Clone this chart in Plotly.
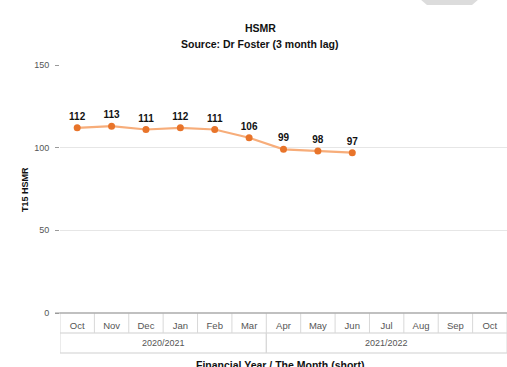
import plotly.graph_objects as go

# HSMR by month, financial years 2020/2021 and 2021/2022
months = ["Oct", "Nov", "Dec", "Jan", "Feb", "Mar", "Apr", "May", "Jun", "Jul", "Aug", "Sep", "Oct"]
fin_years = ["2020/2021", "2021/2022"]
year_spans = [(0, 5), (6, 12)]  # month index ranges covered by each financial year
hsmr = [112, 113, 111, 112, 111, 106, 99, 98, 97]
y_ticks = [0, 50, 100, 150]

W, H = 507, 367
ML, MR, MT, MB = 60, 0, 65, 54
PW, PH = W - ML - MR, H - MT - MB


def px_x(px):
    return (px - ML) / PW


def px_y(py):
    return (H - MB - py) / PH


FONT = "Liberation Sans, Arial, sans-serif"
GRID = "#e6e6e6"
TXT = "#555555"

idx = list(range(len(hsmr)))

fig = go.Figure()
fig.add_trace(go.Scatter(
    x=idx, y=hsmr,
    mode="lines+markers+text",
    line=dict(color="#f7ad7a", width=2.2),
    marker=dict(color="#e8742a", size=7),
    text=[str(v) for v in hsmr],
    textposition="top center",
    textfont=dict(family=FONT, size=10, color="#111111", weight="bold"),
    cliponaxis=False,
    hoverinfo="skip",
    showlegend=False,
))

shapes = []
row1, row2, row3 = 0, px_y(333), px_y(353)
# horizontal table rules under the axis
for yy in (row1, row2, row3):
    shapes.append(dict(type="line", xref="x", yref="paper", x0=-0.5, x1=len(months) - 0.5,
                       y0=yy, y1=yy, line=dict(color="#cfcfcf", width=1)))
# vertical cell borders for months
for i in range(len(months) + 1):
    shapes.append(dict(type="line", xref="x", yref="paper", x0=i - 0.5, x1=i - 0.5,
                       y0=row1, y1=row2, line=dict(color="#d8d8d8", width=1)))
# vertical borders for year groups
for a, b in year_spans:
    for xx in (a - 0.5, b + 0.5):
        shapes.append(dict(type="line", xref="x", yref="paper", x0=xx, x1=xx,
                           y0=row2, y1=row3, line=dict(color="#d8d8d8", width=1)))
# baseline axis line
shapes.append(dict(type="line", xref="paper", yref="paper", x0=px_x(55), x1=1,
                   y0=0, y1=0, line=dict(color="#9a9a9a", width=1.2)))
# grey tab at the top edge
shapes.append(dict(type="path", xref="paper", yref="paper",
                   path=f"M {px_x(420)},{px_y(-1)} L {px_x(479)},{px_y(-1)} "
                        f"L {px_x(472)},{px_y(5)} L {px_x(427)},{px_y(5)} Z",
                   fillcolor="#dcdcdc", line=dict(width=0)))

annotations = []
for (a, b), label in zip(year_spans, fin_years):
    annotations.append(dict(x=(a + b) / 2, xref="x", y=px_y(343), yref="paper",
                            text=label, showarrow=False, yanchor="middle",
                            font=dict(family=FONT, size=9, color=TXT)))
annotations += [
    dict(x=px_x(260), xref="paper", y=px_y(20), yref="paper", text="<b>HSMR</b>",
         showarrow=False, font=dict(family=FONT, size=10.5, color="#111111")),
    dict(x=px_x(260), xref="paper", y=px_y(36), yref="paper",
         text="<b>Source: Dr Foster (3 month lag)</b>",
         showarrow=False, font=dict(family=FONT, size=10.5, color="#111111")),
    dict(x=px_x(18), xref="paper", y=px_y(190), yref="paper", text="<b>T15 HSMR</b>",
         textangle=-90, showarrow=False, font=dict(family=FONT, size=9, color="#111111")),
    dict(x=px_x(280), xref="paper", y=px_y(357), yref="paper", yanchor="top",
         text="<b>Financial Year / The Month (short)</b>",
         showarrow=False, font=dict(family=FONT, size=10.5, color="#111111")),
]

fig.update_layout(
    width=W, height=H,
    margin=dict(l=ML, r=MR, t=MT, b=MB),
    paper_bgcolor="white", plot_bgcolor="white",
    shapes=shapes, annotations=annotations,
    xaxis=dict(
        range=[-0.5, len(months) - 0.5],
        tickvals=list(range(len(months))), ticktext=months,
        showgrid=False, zeroline=False, showline=False, ticks="",
        ticklabelstandoff=5,
        tickfont=dict(family=FONT, size=9.5, color=TXT),
        fixedrange=True,
    ),
    yaxis=dict(
        range=[0, 150], tickvals=y_ticks,
        showgrid=True, gridcolor=GRID, gridwidth=1,
        zeroline=False, showline=False,
        ticks="outside", ticklen=4, tickcolor="#9a9a9a",
        ticklabelstandoff=4,
        tickfont=dict(family=FONT, size=9, color=TXT),
        fixedrange=True,
    ),
)

fig.write_html("out.html")
